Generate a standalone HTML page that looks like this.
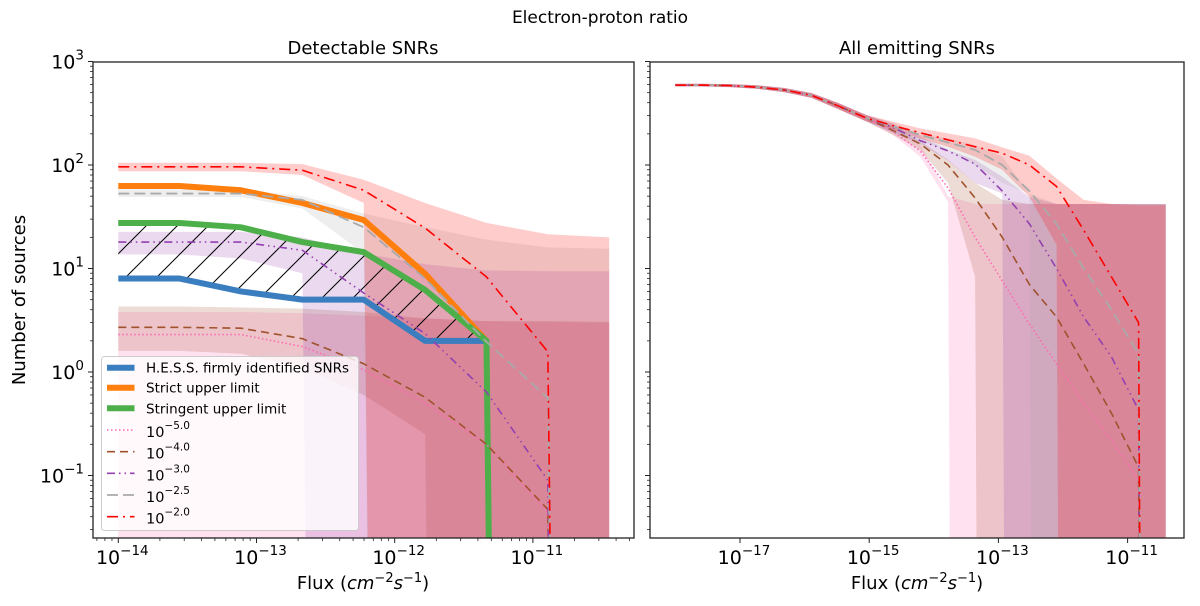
<!DOCTYPE html>
<html><head><meta charset="utf-8">
<style>
html,body{margin:0;padding:0;background:#fff;overflow:hidden;width:1200px;height:606px;}
svg{display:block;font-family:"DejaVu Sans","Liberation Sans",sans-serif;}
</style></head>
<body>
<svg id="fig" width="1200" height="606" viewBox="0 0 1200 606" xmlns="http://www.w3.org/2000/svg">
<defs>
<clipPath id="clipL"><rect x="93" y="62" width="541" height="476"/></clipPath>
<clipPath id="clipR"><rect x="650" y="62" width="534" height="476"/></clipPath>
<pattern id="hatch" patternUnits="userSpaceOnUse" width="31" height="31">
<line x1="0" y1="31" x2="31" y2="0" stroke="#000" stroke-width="1"/>
<line x1="-2" y1="2" x2="2" y2="-2" stroke="#000" stroke-width="1"/>
<line x1="29" y1="33" x2="33" y2="29" stroke="#000" stroke-width="1"/>
</pattern>
</defs>
<text x="600" y="23" font-size="17" text-anchor="middle">Electron-proton ratio</text>
<text x="363" y="54" font-size="18" text-anchor="middle">Detectable SNRs</text>
<text x="917" y="54" font-size="18" text-anchor="middle">All emitting SNRs</text>
<text transform="translate(25,300) rotate(-90)" font-size="18" text-anchor="middle">Number of sources</text>
<text x="363" y="589" font-size="18" text-anchor="middle">Flux (<tspan font-style="italic">cm</tspan><tspan font-size="13" dy="-7">−2</tspan><tspan font-style="italic" dy="7">s</tspan><tspan font-size="13" dy="-7">−1</tspan><tspan dy="7">)</tspan></text>
<text x="917" y="589" font-size="18" text-anchor="middle">Flux (<tspan font-style="italic">cm</tspan><tspan font-size="13" dy="-7">−2</tspan><tspan font-style="italic" dy="7">s</tspan><tspan font-size="13" dy="-7">−1</tspan><tspan dy="7">)</tspan></text>
<g id="gL" clip-path="url(#clipL)"></g>
<g id="gR" clip-path="url(#clipR)"></g>
<g id="axes"></g>
<g id="legend"></g>
</svg>
<script>
// ---- data: left panel (Detectable SNRs) ----
const logFluxL = [-14.00,-13.556,-13.112,-12.668,-12.224,-11.78,-11.336,-10.892,-10.448];
const hessL = [8,8,6,5,5,2,2,0,0];
const strictL = [62.7,62.7,57,43,29.4,8.9,2.0,0,0];
const stringentL = [27.5,27.5,25,18,14.4,6.2,2.0,0,0];
const e5L = [2.3,2.3,2.3,1.76,1.05,0.5,0.2,0.044,0];
const e4L = [2.7,2.7,2.65,2.1,1.2,0.57,0.2,0.047,0];
const e3L = [18,18,18,15,5.8,2.35,0.64,0.09,0];
const e25L = [53,53,53,46,25,8,1.96,0.56,0];
const e2L = [96,96,96,89,57,24.6,8.3,1.57,0];
const e5LU = [3.8,3.8,3.8,3.7,3.5,3.3,3.1,3.05,3.0];
const e5LD = [0,0,0,0,0,0,0,0,0];
const e4LU = [4.3,4.3,4.2,4.1,3.8,3.3,3.1,3.1,3.05];
const e4LD = [1.6,1.6,1.5,1.1,0.6,0.25,0,0,0];
const e3LU = [22.6,22.6,22.6,20,14,11,9.6,9.4,9.4];
const e3LD = [13.7,13.7,12.5,9,0,0,0,0,0];
const e25LU = [58,58,58,50,34,25,19,16,15.5];
const e25LD = [49,49,49,38,14,0,0,0,0];
const e2LU = [105,105,105,102,72,43,27.6,21.4,20];
const e2LD = [87,87,87,80,43,0,0,0,0];
// ---- data: right panel (All emitting SNRs) ----
const logFluxR = [-18.00,-17.58,-17.16,-16.74,-16.31,-15.89,-15.47,-15.05,-14.63,-14.21,-13.78,-13.36,-12.94,-12.52,-12.10,-11.68,-11.25,-10.83,-10.41];
const e5R = [590,590,585,565,530,470,370,285,210,137,60,20,7.6,2.9,1.2,0.5,0.22,0.09,0];
const e4R = [590,590,585,565,530,470,370,285,215,160,100,48,20,7,3.4,1.2,0.4,0.12,0];
const e3R = [590,590,585,565,530,470,370,285,230,172,137,102,56,27,10,3.4,1.4,0.43,0];
const e25R = [590,590,585,565,530,470,370,285,235,195,165,140,100,56,27,10,4,1.5,0];
const e2R = [590,590,585,565,530,470,370,285,240,205,175,150,130,100,62,23.5,8.3,3.0,0];
const e5RU = [610,610,605,590,555,495,395,305,235,160,50,42,42,42,42,42,42,42,42];
const e5RD = [575,575,565,545,505,445,345,265,195,120,44,0,0,0,0,0,0,0,0];
const e4RU = [610,610,605,590,555,495,395,305,240,170,112,67,46,42,42,42,42,42,42];
const e4RD = [575,575,565,545,505,445,345,265,195,140,67,8.3,0,0,0,0,0,0,0];
const e3RU = [610,610,605,590,555,495,395,305,250,190,140,112,77,49,42,42,42,42,42];
const e3RD = [575,575,565,545,505,445,345,265,205,160,110,67,53,0,0,0,0,0,0];
const e25RU = [610,610,605,590,555,495,395,305,255,200,181,156,120,53,42,42,42,42,42];
const e25RD = [575,575,565,545,505,445,345,265,210,170,140,100,67,53,0,0,0,0,0];
const e2RU = [610,610,605,590,555,495,395,305,262,226,202,181,148,123,74,46,42,41,41];
const e2RD = [575,575,565,545,505,445,345,265,220,180,150,120,90,49,17,0,0,0,0];
const yTickExps = [-1,0,1,2,3];
const xTickExpsL = [-14,-13,-12,-11];
const xTickExpsR = [-17,-15,-13,-11];

const NS = "http://www.w3.org/2000/svg";
const xL = l => 118.3 + 138.2*(l+14);
const xR = l => 740 + 64.6*(l+17);
const yS = v => 61.5 + (3 - (v > 0 ? Math.log10(v) : -50))*103.5;
function mk(tag, attrs, parent){const e=document.createElementNS(NS,tag);for(const k in attrs)e.setAttribute(k,attrs[k]);parent.appendChild(e);return e;}
function linePts(xs, vs, xf){return xs.map((l,i)=>xf(l).toFixed(2)+","+yS(vs[i]).toFixed(2)).join(" ");}
function bandPts(xs, up, dn, xf){
  const a = xs.map((l,i)=>xf(l).toFixed(2)+","+yS(up[i]).toFixed(2));
  const b = xs.map((l,i)=>xf(l).toFixed(2)+","+yS(dn[i]).toFixed(2)).reverse();
  return a.concat(b).join(" ");
}
const gL = document.getElementById('gL'), gR = document.getElementById('gR');
const styles = {
  e5:{c:"#ff69b4",d:"1.5 2.5",w:1.6},
  e4:{c:"#a0522d",d:"8 5",w:1.6},
  e3:{c:"#9440b0",d:"8 4 1.5 4 1.5 4",w:1.6},
  e25:{c:"#a9a9a9",d:"11 5",w:1.8},
  e2:{c:"#ff0000",d:"11 5 2 5",w:1.6}
};
function band(g,xs,up,dn,xf,c,name){
  const p=mk('polygon',{points:bandPts(xs,up,dn,xf),fill:c,'fill-opacity':0.2,stroke:'none'},g);
  
  
}
function line(g,xs,vs,xf,c,d,w,name){
  const p=mk('polyline',{points:linePts(xs,vs,xf),fill:'none',stroke:c,'stroke-width':w,'stroke-dasharray':d,'stroke-linejoin':'round'},g);
  
  
}
band(gL,logFluxL,e5LU,e5LD,xL,styles.e5.c,'band-1e-5-left');
band(gL,logFluxL,e4LU,e4LD,xL,styles.e4.c,'band-1e-4-left');
band(gL,logFluxL,e3LU,e3LD,xL,styles.e3.c,'band-1e-3-left');
band(gL,logFluxL,e25LU,e25LD,xL,styles.e25.c,'band-1e-2.5-left');
band(gL,logFluxL,e2LU,e2LD,xL,styles.e2.c,'band-1e-2-left');
{
  const idx=[0,1,2,3,4,5,6];
  const up=idx.map(i=>xL(logFluxL[i]).toFixed(2)+","+yS(stringentL[i]).toFixed(2));
  const dn=idx.map(i=>xL(logFluxL[i]).toFixed(2)+","+yS(hessL[i]).toFixed(2)).reverse();
  const h=mk('polygon',{points:up.concat(dn).join(" "),fill:'url(#hatch)',stroke:'none'},gL);
  
  
}
line(gL,logFluxL.slice(0,7),hessL.slice(0,7),xL,"#3a7ebf","none",6,'line-hess');
line(gL,logFluxL.slice(0,7),strictL.slice(0,7),xL,"#ff7f0e","none",6,'line-strict-upper-limit');
line(gL,logFluxL.slice(0,8),stringentL.slice(0,8),xL,"#4daf4a","none",6,'line-stringent-upper-limit');
line(gL,logFluxL,e5L,xL,styles.e5.c,styles.e5.d,styles.e5.w,'line-1e-5-left');
line(gL,logFluxL,e4L,xL,styles.e4.c,styles.e4.d,styles.e4.w,'line-1e-4-left');
line(gL,logFluxL,e3L,xL,styles.e3.c,styles.e3.d,styles.e3.w,'line-1e-3-left');
line(gL,logFluxL,e25L,xL,styles.e25.c,styles.e25.d,styles.e25.w,'line-1e-2.5-left');
line(gL,logFluxL,e2L,xL,styles.e2.c,styles.e2.d,styles.e2.w,'line-1e-2-left');
band(gR,logFluxR,e5RU,e5RD,xR,styles.e5.c,'band-1e-5-right');
band(gR,logFluxR,e4RU,e4RD,xR,styles.e4.c,'band-1e-4-right');
band(gR,logFluxR,e3RU,e3RD,xR,styles.e3.c,'band-1e-3-right');
band(gR,logFluxR,e25RU,e25RD,xR,styles.e25.c,'band-1e-2.5-right');
band(gR,logFluxR,e2RU,e2RD,xR,styles.e2.c,'band-1e-2-right');
line(gR,logFluxR,e5R,xR,styles.e5.c,styles.e5.d,styles.e5.w,'line-1e-5-right');
line(gR,logFluxR,e4R,xR,styles.e4.c,styles.e4.d,styles.e4.w,'line-1e-4-right');
line(gR,logFluxR,e3R,xR,styles.e3.c,styles.e3.d,styles.e3.w,'line-1e-3-right');
line(gR,logFluxR,e25R,xR,styles.e25.c,styles.e25.d,styles.e25.w,'line-1e-2.5-right');
line(gR,logFluxR,e2R,xR,styles.e2.c,styles.e2.d,styles.e2.w,'line-1e-2-right');

const ax=document.getElementById('axes');
function frame(x,name){
  const r=mk('rect',{x:x[0],y:62,width:x[1]-x[0],height:476,fill:'none',stroke:'#222','stroke-width':1.3},ax);
  
  
}
frame([93,634],'left-axes-frame');
frame([650,1184],'right-axes-frame');
function sup(g,x,y,exp,anchor,name){
  const t=mk('text',{x:x,y:y,'font-size':19,'text-anchor':anchor},g);
  
  
  const a=document.createElementNS(NS,'tspan');a.textContent='10';t.appendChild(a);
  const b=document.createElementNS(NS,'tspan');b.setAttribute('font-size','13.5');b.setAttribute('dy','-9');
  b.textContent=(exp<0?'−':'')+Math.abs(exp);t.appendChild(b);
}
[93,650].forEach((x0,pi)=>{
  for(let e=-2;e<=3;e++){
    for(let m=1;m<10;m++){
      const v=m*Math.pow(10,e);const y=yS(v);
      if(y<61||y>538.5)continue;
      const len=m===1?5:3;
      mk('line',{x1:x0,x2:x0-len,y1:y,y2:y,stroke:'#222','stroke-width':m===1?1:0.8},ax);
    }
  }
});
yTickExps.forEach(e=>sup(ax,84,yS(Math.pow(10,e))+7,e,'end','y-tick-label'));
for(let e=-15;e<=-10;e++){
  for(let m=1;m<10;m++){
    const l=e+Math.log10(m);const x=xL(l);
    if(x<93||x>634)continue;
    const len=m===1?5:3;
    mk('line',{x1:x,x2:x,y1:538,y2:538+len,stroke:'#222','stroke-width':m===1?1:0.8},ax);
  }
}
xTickExpsL.forEach(e=>sup(ax,xL(e)+4,564,e,'middle','x-tick-label-left'));
xTickExpsR.forEach(e=>{
  const x=xR(e);
  mk('line',{x1:x,x2:x,y1:538,y2:543,stroke:'#222','stroke-width':1},ax);
  sup(ax,x+4,564,e,'middle','x-tick-label-right');
});

const lg=document.getElementById('legend');
const box=mk('rect',{x:101.5,y:356.5,width:257,height:174,rx:3,fill:'#fff','fill-opacity':0.8,stroke:'#ccc','stroke-width':1},lg);


const legendItems=[
 {t:'H.E.S.S. firmly identified SNRs',c:'#3a7ebf',d:'none',w:6,exp:null},
 {t:'Strict upper limit',c:'#ff7f0e',d:'none',w:6,exp:null},
 {t:'Stringent upper limit',c:'#4daf4a',d:'none',w:6,exp:null},
 {c:styles.e5.c,d:styles.e5.d,w:1.6,exp:'−5.0'},
 {c:styles.e4.c,d:styles.e4.d,w:1.6,exp:'−4.0'},
 {c:styles.e3.c,d:styles.e3.d,w:1.6,exp:'−3.0'},
 {c:styles.e25.c,d:styles.e25.d,w:1.8,exp:'−2.5'},
 {c:styles.e2.c,d:styles.e2.d,w:1.6,exp:'−2.0'}
];
const legendY=[367.7,387.7,408.3,430,451.7,473.3,495,516.7];
legendItems.forEach((it,i)=>{
  const y=legendY[i];
  const g=mk('g',{},lg);
  
  
  mk('line',{x1:107,x2:134.5,y1:y,y2:y,stroke:it.c,'stroke-width':it.w,'stroke-dasharray':it.d},g);
  const t=mk('text',{x:146,y:y+5,'font-size':13.5},g);
  if(it.exp===null){t.textContent=it.t;}
  else{
    const a=document.createElementNS(NS,'tspan');a.textContent='10';a.setAttribute('dy','2');a.setAttribute('font-size','14.5');t.appendChild(a);
    const b=document.createElementNS(NS,'tspan');b.setAttribute('font-size','10.5');b.setAttribute('dy','-8');b.textContent=it.exp;t.appendChild(b);
  }
});
</script>
</body></html>
